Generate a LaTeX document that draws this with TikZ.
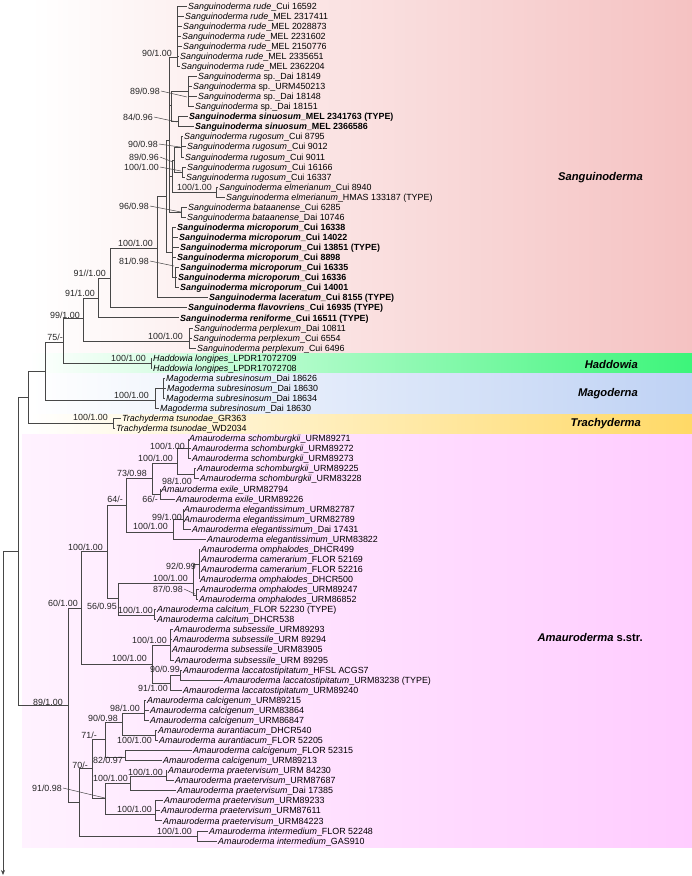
\documentclass[tikz,border=0pt]{standalone}
\usepackage{fontspec}
\setmainfont{Liberation Sans}
\usetikzlibrary{arrows.meta}
\definecolor{sangR}{HTML}{F5C2C2}
\definecolor{hadR}{HTML}{3CF57A}
\definecolor{magR}{HTML}{BFD2F4}
\definecolor{traR}{HTML}{FFD966}
\definecolor{amaL}{HTML}{FFF2FF}
\definecolor{amaR}{HTML}{FFCCFF}
\newcommand\It[1]{\textit{#1}}
\newcommand\leafnd[3]{\node[leaf] (l#1) at ({#2-1},{6+10.06*(#1-1)}) {#3};}
\newcommand\brl[2]{\draw[tree] (#1) |- (l#2.west);}
\newcommand\brn[2]{\draw[tree] (#1) |- (#2);}
\newcommand\supv[4]{\node[suplab] (#1) at (#2,#3) {#4};}
\tikzset{
 tree/.style={draw=black!72, line width=0.75pt},
 ptr/.style={draw=black!72, line width=0.5pt},
 leaf/.style={anchor=west, inner xsep=1pt, inner ysep=0pt, text height=6.3pt, text depth=0pt, font=\fontsize{8.9}{10}\selectfont},
 suplab/.style={anchor=east, inner sep=0pt, text height=6.3pt, text depth=0pt, font=\fontsize{8.9}{10}\selectfont, text=black!85},
 grp/.style={anchor=east, inner sep=0pt, font=\fontsize{11.2}{13}\selectfont\bfseries\itshape}
}
\begin{document}
\begin{tikzpicture}[x=1pt,y=-1pt]
\useasboundingbox (0,0) rectangle (692,876);
% bands
\shade[left color=white, right color=sangR] (30,0) rectangle (692,353);
\shade[left color=white, right color=hadR] (30,353) rectangle (692,373);
\shade[left color=white, right color=magR] (30,373) rectangle (692,414);
\shade[left color=white, right color=traR] (30,414) rectangle (692,434);
\shade[left color=amaL, right color=amaR] (22,434) rectangle (692,847);
\node[grp] (gS) at (643,178) {Sanguinoderma};
\node[grp] (gH) at (638,364) {Haddowia};
\node[grp] (gM) at (638,394) {Magoderna};
\node[grp] (gT) at (641,424) {Trachyderma};
\node[grp] (gA) at (643,637) {Amauroderma \upshape s.str.};
% leaves
\leafnd{1}{188}{\It{Sanguinoderma rude}\_Cui 16592}
\leafnd{2}{185}{\It{Sanguinoderma rude}\_MEL 2317411}
\leafnd{3}{183}{\It{Sanguinoderma rude}\_MEL 2028873}
\leafnd{4}{182}{\It{Sanguinoderma rude}\_MEL 2231602}
\leafnd{5}{183}{\It{Sanguinoderma rude}\_MEL 2150776}
\leafnd{6}{180}{\It{Sanguinoderma rude}\_MEL 2335651}
\leafnd{7}{181}{\It{Sanguinoderma rude}\_MEL 2362204}
\leafnd{8}{198}{\It{Sanguinoderma} sp.\_Dai 18149}
\leafnd{9}{193}{\It{Sanguinoderma} sp.\_URM450213}
\leafnd{10}{198}{\It{Sanguinoderma} sp.\_Dai 18148}
\leafnd{11}{195}{\It{Sanguinoderma} sp.\_Dai 18151}
\leafnd{12}{189}{\bfseries\It{Sanguinoderma sinuosum}\_MEL 2341763 (TYPE)}
\leafnd{13}{195}{\bfseries\It{Sanguinoderma sinuosum}\_MEL 2366586}
\leafnd{14}{184}{\It{Sanguinoderma rugosum}\_Cui 8795}
\leafnd{15}{187}{\It{Sanguinoderma rugosum}\_Cui 9012}
\leafnd{16}{185}{\It{Sanguinoderma rugosum}\_Cui 9011}
\leafnd{17}{187}{\It{Sanguinoderma rugosum}\_Cui 16166}
\leafnd{18}{186}{\It{Sanguinoderma rugosum}\_Cui 16337}
\leafnd{19}{219}{\It{Sanguinoderma elmerianum}\_Cui 8940}
\leafnd{20}{226}{\It{Sanguinoderma elmerianum}\_HMAS 133187 (TYPE)}
\leafnd{21}{188}{\It{Sanguinoderma bataanense}\_Cui 6285}
\leafnd{22}{187}{\It{Sanguinoderma bataanense}\_Dai 10746}
\leafnd{23}{177}{\bfseries\It{Sanguinoderma microporum}\_Cui 16338}
\leafnd{24}{179}{\bfseries\It{Sanguinoderma microporum}\_Cui 14022}
\leafnd{25}{180}{\bfseries\It{Sanguinoderma microporum}\_Cui 13851 (TYPE)}
\leafnd{26}{177}{\bfseries\It{Sanguinoderma microporum}\_Cui 8898}
\leafnd{27}{180}{\bfseries\It{Sanguinoderma microporum}\_Cui 16335}
\leafnd{28}{178}{\bfseries\It{Sanguinoderma microporum}\_Cui 16336}
\leafnd{29}{180}{\bfseries\It{Sanguinoderma microporum}\_Cui 14001}
\leafnd{30}{209}{\bfseries\It{Sanguinoderma laceratum}\_Cui 8155 (TYPE)}
\leafnd{31}{188}{\bfseries\It{Sanguinoderma flavovriens}\_Cui 16935 (TYPE)}
\leafnd{32}{180}{\bfseries\It{Sanguinoderma reniforme}\_Cui 16511 (TYPE)}
\leafnd{33}{194}{\It{Sanguinoderma perplexum}\_Dai 10811}
\leafnd{34}{193}{\It{Sanguinoderma perplexum}\_Cui 6554}
\leafnd{35}{197}{\It{Sanguinoderma perplexum}\_Cui 6496}
\leafnd{36}{153}{\It{Haddowia longipes}\_LPDR17072709}
\leafnd{37}{153}{\It{Haddowia longipes}\_LPDR17072708}
\leafnd{38}{166}{\It{Magoderma subresinosum}\_Dai 18626}
\leafnd{39}{167}{\It{Magoderma subresinosum}\_Dai 18630}
\leafnd{40}{166}{\It{Magoderma subresinosum}\_Dai 18634}
\leafnd{41}{160}{\It{Magoderma subresinosum}\_Dai 18630}
\leafnd{42}{122}{\It{Trachyderma tsunodae}\_GR363}
\leafnd{43}{116}{\It{Trachyderma tsunodae}\_WD2034}
\leafnd{44}{189}{\It{Amauroderma schomburgkii}\_URM89271}
\leafnd{45}{192}{\It{Amauroderma schomburgkii}\_URM89272}
\leafnd{46}{192}{\It{Amauroderma schomburgkii}\_URM89273}
\leafnd{47}{197}{\It{Amauroderma schomburgkii}\_URM89225}
\leafnd{48}{200}{\It{Amauroderma schomburgkii}\_URM83228}
\leafnd{49}{161}{\It{Amauroderma exile}\_URM82794}
\leafnd{50}{176}{\It{Amauroderma exile}\_URM89226}
\leafnd{51}{184}{\It{Amauroderma elegantissimum}\_URM82787}
\leafnd{52}{184}{\It{Amauroderma elegantissimum}\_URM82789}
\leafnd{53}{192}{\It{Amauroderma elegantissimum}\_Dai 17431}
\leafnd{54}{207}{\It{Amauroderma elegantissimum}\_URM83822}
\leafnd{55}{201}{\It{Amauroderma omphalodes}\_DHCR499}
\leafnd{56}{201}{\It{Amauroderma camerarium}\_FLOR 52169}
\leafnd{57}{201}{\It{Amauroderma camerarium}\_FLOR 52216}
\leafnd{58}{200}{\It{Amauroderma omphalodes}\_DHCR500}
\leafnd{59}{200}{\It{Amauroderma omphalodes}\_URM89247}
\leafnd{60}{199}{\It{Amauroderma omphalodes}\_URM86852}
\leafnd{61}{157}{\It{Amauroderma calcitum}\_FLOR 52230 (TYPE)}
\leafnd{62}{157}{\It{Amauroderma calcitum}\_DHCR538}
\leafnd{63}{174}{\It{Amauroderma subsessile}\_URM89293}
\leafnd{64}{173}{\It{Amauroderma subsessile}\_URM 89294}
\leafnd{65}{172}{\It{Amauroderma subsessile}\_URM83905}
\leafnd{66}{175}{\It{Amauroderma subsessile}\_URM 89295}
\leafnd{67}{183}{\It{Amauroderma laccatostipitatum}\_HFSL ACGS7}
\leafnd{68}{224}{\It{Amauroderma laccatostipitatum}\_URM83238 (TYPE)}
\leafnd{69}{183}{\It{Amauroderma laccatostipitatum}\_URM89240}
\leafnd{70}{147}{\It{Amauroderma calcigenum}\_URM89215}
\leafnd{71}{150}{\It{Amauroderma calcigenum}\_URM83864}
\leafnd{72}{150}{\It{Amauroderma calcigenum}\_URM86847}
\leafnd{73}{158}{\It{Amauroderma aurantiacum}\_DHCR540}
\leafnd{74}{159}{\It{Amauroderma aurantiacum}\_FLOR 52205}
\leafnd{75}{193}{\It{Amauroderma calcigenum}\_FLOR 52315}
\leafnd{76}{163}{\It{Amauroderma calcigenum}\_URM89213}
\leafnd{77}{168}{\It{Amauroderma praetervisum}\_URM 84230}
\leafnd{78}{175}{\It{Amauroderma praetervisum}\_URM87687}
\leafnd{79}{177}{\It{Amauroderma praetervisum}\_Dai 17385}
\leafnd{80}{164}{\It{Amauroderma praetervisum}\_URM89233}
\leafnd{81}{161}{\It{Amauroderma praetervisum}\_URM87611}
\leafnd{82}{163}{\It{Amauroderma praetervisum}\_URM84223}
\leafnd{83}{209}{\It{Amauroderma intermedium}\_FLOR 52248}
\leafnd{84}{218}{\It{Amauroderma intermedium}\_GAS910}
% internal nodes
\coordinate (nR) at (177,57);
\coordinate (nSP) at (188,91);
\coordinate (nSI) at (178,121);
\coordinate (nC2) at (171,105);
\coordinate (nRG3) at (181,147);
\coordinate (nRG2) at (182,172);
\coordinate (nRG) at (174,160);
\coordinate (nEL) at (216,192);
\coordinate (nRGE) at (172,176);
\coordinate (nBA) at (181,212);
\coordinate (nC) at (169,140);
\coordinate (nM2) at (175,277);
\coordinate (nM) at (172,252);
\coordinate (nU) at (166,196);
\coordinate (n157) at (157,248);
\coordinate (n110) at (110,278);
\coordinate (n98) at (98,298);
\coordinate (nPP) at (189,341);
\coordinate (n83) at (83,318);
\coordinate (nHD) at (151,363);
\coordinate (n63) at (63,342);
\coordinate (nMG1) at (163,388);
\coordinate (nMG) at (155,400);
\coordinate (n45) at (45,371);
\coordinate (nTR) at (113,423);
\coordinate (n28) at (28,397);
\coordinate (nSa) at (188,448);
\coordinate (nSb) at (194,474);
\coordinate (nS) at (177,463);
\coordinate (nEX) at (160,494);
\coordinate (n152) at (152,478);
\coordinate (nEG1) at (183,519);
\coordinate (nEG) at (173,532);
\coordinate (n126) at (126,505);
\coordinate (nOM1) at (199,564);
\coordinate (nOM2) at (196,595);
\coordinate (nOM) at (193,583);
\coordinate (nCA) at (154,615);
\coordinate (n118) at (118,598);
\coordinate (n107) at (107,551);
\coordinate (nSU) at (170,645);
\coordinate (nLA1) at (180,675);
\coordinate (nLA) at (170,683);
\coordinate (n152b) at (152,664);
\coordinate (n81) at (81,608);
\coordinate (nCG) at (144,713);
\coordinate (nAU) at (155,735);
\coordinate (n122) at (122,722);
\coordinate (nCG2) at (125,757);
\coordinate (n105a) at (105,739);
\coordinate (nPR1) at (166,776);
\coordinate (nPR) at (130,783);
\coordinate (nPR2) at (155,814);
\coordinate (n105b) at (105,798);
\coordinate (n92) at (92,768);
\coordinate (nIN) at (197,836);
\coordinate (n79) at (79,802);
\coordinate (n68) at (68,705);
\coordinate (n18) at (18,551);
\coordinate (nroot) at (3,551);
\coordinate (rootend) at (3,875);
% branches
\foreach \i in {1,...,7} {\brl{nR}{\i}}
\foreach \i in {8,...,11} {\brl{nSP}{\i}}
\brl{nSI}{12} \brl{nSI}{13}
\brn{nC2}{nSP} \brn{nC2}{nSI}
\foreach \i in {14,15,16} {\brl{nRG3}{\i}}
\brl{nRG2}{17} \brl{nRG2}{18}
\brn{nRG}{nRG3} \brn{nRG}{nRG2}
\brl{nEL}{19} \brl{nEL}{20}
\brn{nRGE}{nRG} \brn{nRGE}{nEL}
\brl{nBA}{21} \brl{nBA}{22}
\brn{nC}{nR} \brn{nC}{nC2} \brn{nC}{nRGE} \brn{nC}{nBA}
\foreach \i in {27,28,29} {\brl{nM2}{\i}}
\foreach \i in {23,...,26} {\brl{nM}{\i}}
\brn{nM}{nM2}
\brn{nU}{nC} \brn{nU}{nM}
\brn{n157}{nU} \brl{n157}{30}
\brn{n110}{n157} \brl{n110}{31}
\brn{n98}{n110} \brl{n98}{32}
\foreach \i in {33,34,35} {\brl{nPP}{\i}}
\brn{n83}{n98} \brn{n83}{nPP}
\brl{nHD}{36} \brl{nHD}{37}
\brn{n63}{n83} \brn{n63}{nHD}
\foreach \i in {38,39,40} {\brl{nMG1}{\i}}
\brn{nMG}{nMG1} \brl{nMG}{41}
\brn{n45}{n63} \brn{n45}{nMG}
\brl{nTR}{42} \brl{nTR}{43}
\brn{n28}{n45} \brn{n28}{nTR}
\foreach \i in {44,45,46} {\brl{nSa}{\i}}
\brl{nSb}{47} \brl{nSb}{48}
\brn{nS}{nSa} \brn{nS}{nSb}
\brl{nEX}{49} \brl{nEX}{50}
\brn{n152}{nS} \brn{n152}{nEX}
\foreach \i in {51,52,53} {\brl{nEG1}{\i}}
\brn{nEG}{nEG1} \brl{nEG}{54}
\brn{n126}{n152} \brn{n126}{nEG}
\foreach \i in {55,...,58} {\brl{nOM1}{\i}}
\brl{nOM2}{59} \brl{nOM2}{60}
\brn{nOM}{nOM1} \brn{nOM}{nOM2}
\brl{nCA}{61} \brl{nCA}{62}
\brn{n118}{nOM} \brn{n118}{nCA}
\brn{n107}{n126} \brn{n107}{n118}
\foreach \i in {63,...,66} {\brl{nSU}{\i}}
\brl{nLA1}{67} \brl{nLA1}{68}
\brn{nLA}{nLA1} \brl{nLA}{69}
\brn{n152b}{nSU} \brn{n152b}{nLA}
\brn{n81}{n107} \brn{n81}{n152b}
\foreach \i in {70,71,72} {\brl{nCG}{\i}}
\brl{nAU}{73} \brl{nAU}{74}
\brn{n122}{nCG} \brn{n122}{nAU}
\brl{nCG2}{75} \brl{nCG2}{76}
\brn{n105a}{n122} \brn{n105a}{nCG2}
\brl{nPR1}{77} \brl{nPR1}{78}
\brn{nPR}{nPR1} \brl{nPR}{79}
\foreach \i in {80,81,82} {\brl{nPR2}{\i}}
\brn{n105b}{nPR} \brn{n105b}{nPR2}
\brn{n92}{n105a} \brn{n92}{n105b}
\brl{nIN}{83} \brl{nIN}{84}
\brn{n79}{n92} \brn{n79}{nIN}
\brn{n68}{n81} \brn{n68}{n79}
\brn{n18}{n28} \brn{n18}{n68}
\brn{nroot}{n18}
\draw[tree,-{Stealth[length=5pt,width=4pt]}] (nroot) -- (rootend);
% support values
\supv{s1}{172}{53}{90/1.00}
\supv{s2}{160}{91}{89/0.98}
\supv{s3}{153}{117}{84/0.96}
\supv{s4}{158}{144}{90/0.98}
\supv{s5}{159}{157}{89/0.96}
\supv{s6}{159}{167}{100/1.00}
\supv{s7}{212}{187}{100/1.00}
\supv{s8}{149}{206}{96/0.98}
\supv{s9}{153}{243}{100/1.00}
\supv{s10}{149}{261}{81/0.98}
\supv{s11}{106}{273}{91//1.00}
\supv{s12}{95}{293}{91/1.00}
\supv{s13}{80}{315}{99/1.00}
\supv{s14}{183}{336}{100/1.00}
\supv{s15}{63}{337}{75/-}
\supv{s16}{146}{358}{100/1.00}
\supv{s17}{149}{395}{100/1.00}
\supv{s18}{108}{417}{100/1.00}
\supv{s19}{185}{446}{100/1.00}
\supv{s20}{173}{458}{100/1.00}
\supv{s21}{147}{473}{73/0.98}
\supv{s22}{192}{481}{98/1.00}
\supv{s23}{123}{499}{64/-}
\supv{s24}{158}{499}{66/-}
\supv{s25}{182}{517}{99/1.00}
\supv{s26}{168}{526}{100/1.00}
\supv{s27}{103}{547}{100/1.00}
\supv{s28}{196}{566}{92/0.99}
\supv{s29}{188}{578}{100/1.00}
\supv{s30}{183}{589}{87/0.98}
\supv{s31}{78}{603}{60/1.00}
\supv{s32}{117}{606}{56/0.95}
\supv{s33}{153}{610}{100/1.00}
\supv{s34}{167}{640}{100/1.00}
\supv{s35}{147}{658}{100/1.00}
\supv{s36}{180}{669}{90/0.99}
\supv{s37}{168}{688}{91/1.00}
\supv{s38}{63}{702}{89/1.00}
\supv{s39}{140}{708}{98/1.00}
\supv{s40}{118}{718}{90/0.98}
\supv{s41}{97}{735}{71/-}
\supv{s42}{152}{740}{100/1.00}
\supv{s43}{123}{760}{82/0.97}
\supv{s44}{88}{765}{70/-}
\supv{s45}{163}{772}{100/1.00}
\supv{s46}{128}{778}{100/1.00}
\supv{s47}{62}{788}{91/0.98}
\supv{s48}{152}{809}{100/1.00}
\supv{s49}{192}{831}{100/1.00}
% pointer ends
\coordinate (p2) at (187,97);
\coordinate (p3) at (177,122);
\coordinate (p4) at (180,147);
\coordinate (p5) at (173,162);
\coordinate (p6) at (181,171);
\coordinate (p8) at (181,212);
\coordinate (p10) at (174,266);
\coordinate (p30) at (195,594);
\coordinate (p47) at (105,798);
\draw[ptr] ([xshift=1pt]s2.east) -- (p2);
\draw[ptr] ([xshift=1pt]s3.east) -- (p3);
\draw[ptr] ([xshift=1pt]s4.east) -- (p4);
\draw[ptr] ([xshift=1pt]s5.east) -- (p5);
\draw[ptr] ([xshift=1pt]s6.east) -- (p6);
\draw[ptr] ([xshift=1pt]s8.east) -- (p8);
\draw[ptr] ([xshift=1pt]s10.east) -- (p10);
\draw[ptr] ([xshift=1pt]s30.east) -- (p30);
\draw[ptr] ([xshift=1pt]s47.east) -- (p47);
\end{tikzpicture}
\end{document}
